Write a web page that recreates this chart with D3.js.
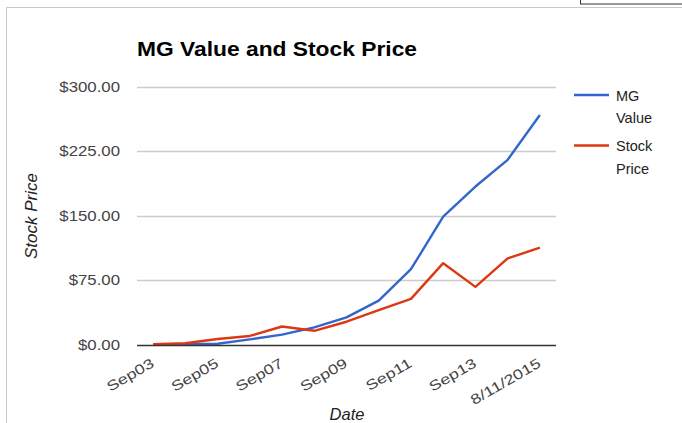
<!DOCTYPE html>
<html>
<head>
<meta charset="utf-8">
<script src="https://cdn.jsdelivr.net/npm/d3@7"></script>
<style>
  html, body { margin: 0; padding: 0; background: #fff; }
  svg { display: block; }
</style>
</head>
<body>
<svg id="chart" width="682" height="423"></svg>
<script>
const categories = ["Sep03","Sep04","Sep05","Sep06","Sep07","Sep08","Sep09","Sep10","Sep11","Sep12","Sep13","Sep14","8/11/2015"];
const tickLabels = ["Sep03","Sep05","Sep07","Sep09","Sep11","Sep13","8/11/2015"];
const mgValue =    [0.5, 1, 1.5, 6.5, 12, 20.5, 32, 51.5, 88, 149, 184, 215, 267];
const stockPrice = [1, 2, 7, 10.5, 21.5, 16.5, 27, 40.5, 53.5, 95, 67.5, 100.5, 113];
const yTicks = [0, 75, 150, 225, 300];
const seriesNames = ["MG Value", "Stock Price"];
const seriesColors = ["#3366cc", "#dc3912"];

const svg = d3.select("#chart");
const font = "'Liberation Sans', Arial, sans-serif";
const plotLeft = 137, plotRight = 556, plotTop = 86.6, plotBottom = 345;
const sx = 1.2; // horizontal stretch of the original rendering

// frame
svg.append("rect").attr("x", 0).attr("y", 0).attr("width", 682).attr("height", 423).attr("fill", "#fff");
svg.append("line").attr("x1", 6.5).attr("x2", 682).attr("y1", 7.5).attr("y2", 7.5).attr("stroke", "#c8c8c8").attr("stroke-width", 1);
svg.append("line").attr("x1", 6.5).attr("x2", 6.5).attr("y1", 7.5).attr("y2", 423).attr("stroke", "#c8c8c8").attr("stroke-width", 1);
svg.append("rect").attr("x", 580.5).attr("y", -2).attr("width", 110).attr("height", 6).attr("fill", "#fff").attr("stroke", "#333").attr("stroke-width", 1);

const x = d3.scalePoint().domain(categories).range([plotLeft, plotRight]).padding(0.5);
const y = d3.scaleLinear().domain([0, 300]).range([plotBottom, plotTop]);

// gridlines
svg.append("g").selectAll("line").data(yTicks.filter(d => d > 0)).join("line")
  .attr("x1", plotLeft).attr("x2", plotRight)
  .attr("y1", d => Math.round(y(d)) + 0.5).attr("y2", d => Math.round(y(d)) + 0.5)
  .attr("stroke", "#cccccc").attr("stroke-width", 1.3);

// y tick labels
const fmt = d => "$" + d3.format(".2f")(d);
svg.append("g").selectAll("text").data(yTicks).join("text")
  .attr("transform", d => `translate(120,${y(d) + 5}) scale(${sx},1)`)
  .attr("text-anchor", "end")
  .attr("font-family", font).attr("font-size", 14).attr("fill", "#444")
  .text(fmt);

// lines
const line = d3.line().x((d, i) => x(categories[i])).y(d => y(d));
[mgValue, stockPrice].forEach((s, k) => {
  svg.append("path").datum(s).attr("d", line)
    .attr("fill", "none").attr("stroke", seriesColors[k]).attr("stroke-width", 2.4)
    .attr("stroke-linejoin", "round");
});

// baseline
svg.append("line").attr("x1", plotLeft).attr("x2", plotRight).attr("y1", plotBottom + 0.5).attr("y2", plotBottom + 0.5)
  .attr("stroke", "#333").attr("stroke-width", 1.3);

// x tick labels
svg.append("g").selectAll("text").data(tickLabels).join("text")
  .attr("transform", d => `translate(${x(d) + 2},${plotBottom + 21}) rotate(-30) scale(1.28,1)`)
  .attr("text-anchor", "end")
  .attr("font-family", font).attr("font-size", 14).attr("fill", "#444")
  .text(d => d);

// title
svg.append("text").attr("x", 137).attr("y", 55.5)
  .attr("font-family", font).attr("font-size", 20).attr("font-weight", "bold").attr("fill", "#000")
  .attr("textLength", 280).attr("lengthAdjust", "spacingAndGlyphs")
  .text("MG Value and Stock Price");

// axis titles
svg.append("text").attr("transform", "translate(37,216) rotate(-90)")
  .attr("text-anchor", "middle").attr("font-family", font).attr("font-size", 17)
  .attr("font-style", "italic").attr("fill", "#222").text("Stock Price");
svg.append("text").attr("x", 347).attr("y", 420)
  .attr("text-anchor", "middle").attr("font-family", font).attr("font-size", 16.5)
  .attr("font-style", "italic").attr("fill", "#222").text("Date");

// legend
const legend = [
  { lines: ["MG", "Value"], y: 95 },
  { lines: ["Stock", "Price"], y: 145.5 }
];
legend.forEach((l, k) => {
  svg.append("line").attr("x1", 574).attr("x2", 609).attr("y1", l.y).attr("y2", l.y)
    .attr("stroke", seriesColors[k]).attr("stroke-width", 2.5);
  const t = svg.append("text").attr("x", 616).attr("y", l.y + 5.5)
    .attr("font-family", font).attr("font-size", 14.5).attr("fill", "#222");
  l.lines.forEach((s, j) => t.append("tspan").attr("x", 616).attr("dy", j === 0 ? 0 : 22.5).text(s));
});
</script>
</body>
</html>
